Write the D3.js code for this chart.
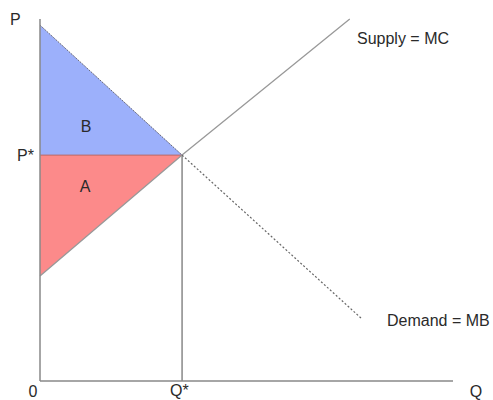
<!DOCTYPE html>
<html>
<head>
<meta charset="utf-8">
<script src="https://cdn.jsdelivr.net/npm/d3@7"></script>
<style>
  body { margin: 0; background: #fff; }
  text { font-family: "Liberation Sans", Arial, sans-serif; font-size: 16px; fill: #2a2a2a; }
</style>
</head>
<body>
<div id="chart"></div>
<script>
// values (quantity 0..100, price 0..100)
var qStar = 34.4;
var pStar = 62.4;
var demandTop = [{ q: 0, p: 98.3 }, { q: qStar, p: pStar }];
var demandRest = [{ q: qStar, p: pStar }, { q: 78, p: 17.1 }];
var supply = [{ q: 0, p: 29 }, { q: qStar, p: pStar }, { q: 75, p: 100 }];
var areaB = [{ q: 0, p: 98.3 }, { q: qStar, p: pStar }, { q: 0, p: pStar }];
var areaA = [{ q: 0, p: pStar }, { q: qStar, p: pStar }, { q: 0, p: 29 }];

var width = 493, height = 400;
var x = d3.scaleLinear().domain([0, 100]).range([40, 453]);
var y = d3.scaleLinear().domain([0, 100]).range([381, 19]);

var svg = d3.select("#chart").append("svg")
  .attr("width", width).attr("height", height);

var line = d3.line().x(function (d) { return x(d.q); }).y(function (d) { return y(d.p); });

// shaded areas
svg.append("path").attr("d", line(areaB) + "Z")
  .attr("fill", "#9cb0fb").attr("stroke", "none");
svg.append("path").attr("d", line(areaA) + "Z")
  .attr("fill", "#fc8a8a").attr("stroke", "none");

// P* line
svg.append("line")
  .attr("x1", x(0)).attr("x2", x(qStar)).attr("y1", y(pStar)).attr("y2", y(pStar))
  .attr("stroke", "#b86a6a").attr("stroke-width", 1);

// Q* line
svg.append("line")
  .attr("x1", x(qStar)).attr("x2", x(qStar)).attr("y1", y(pStar)).attr("y2", y(0))
  .attr("stroke", "#888").attr("stroke-width", 1.5);

// supply
svg.append("path").attr("d", line(supply))
  .attr("fill", "none").attr("stroke", "#999").attr("stroke-width", 1.3);

// demand
svg.append("path").attr("d", line(demandTop))
  .attr("fill", "none").attr("stroke", "#667").attr("stroke-width", 1).attr("stroke-dasharray", "2,1");
svg.append("path").attr("d", line(demandRest))
  .attr("fill", "none").attr("stroke", "#666").attr("stroke-width", 1.2).attr("stroke-dasharray", "2,2");

// axes
svg.append("line")
  .attr("x1", x(0)).attr("x2", x(0)).attr("y1", y(100)).attr("y2", y(0))
  .attr("stroke", "#888").attr("stroke-width", 1.5);
svg.append("line")
  .attr("x1", x(0)).attr("x2", x(100)).attr("y1", y(0)).attr("y2", y(0))
  .attr("stroke", "#888").attr("stroke-width", 1.5);

// labels
svg.append("text").attr("x", 10).attr("y", 25).text("P");
svg.append("text").attr("x", 17).attr("y", y(pStar) + 6).text("P*");
svg.append("text").attr("x", 86).attr("y", 132).attr("text-anchor", "middle").text("B");
svg.append("text").attr("x", 85).attr("y", 192).attr("text-anchor", "middle").text("A");
svg.append("text").attr("x", 33).attr("y", 397).attr("text-anchor", "middle").text("0");
svg.append("text").attr("x", x(qStar) - 12).attr("y", 396).text("Q*");
svg.append("text").attr("x", 476).attr("y", 397).attr("text-anchor", "middle").text("Q");
svg.append("text").attr("x", 357).attr("y", 44).text("Supply = MC");
svg.append("text").attr("x", 387).attr("y", 326).text("Demand = MB");
</script>
</body>
</html>
